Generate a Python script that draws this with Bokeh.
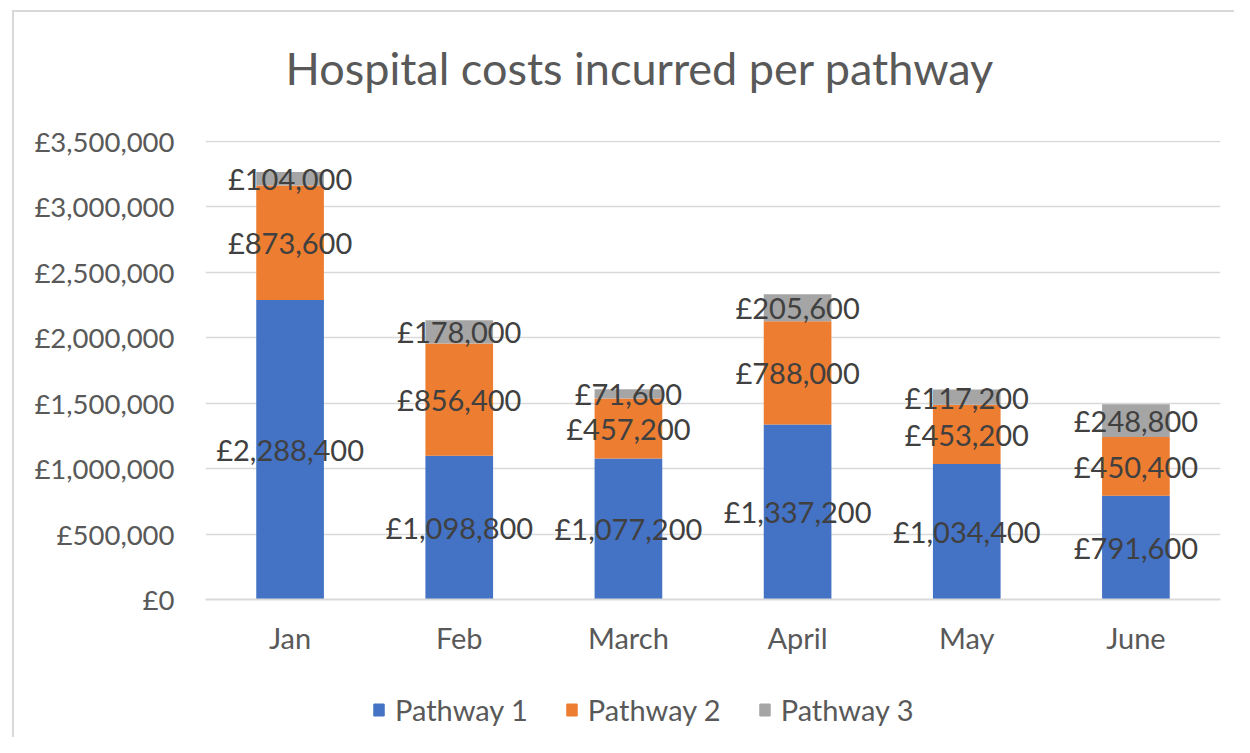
from bokeh.plotting import figure
from bokeh.layouts import column
from bokeh.models import (FactorRange, FixedTicker, Legend, LegendItem, ColumnDataSource, Label)
from bokeh.core.properties import value
from bokeh.embed import file_html
from bokeh.resources import INLINE

categories = ["Jan", "Feb", "March", "April", "May", "June"]
pathway1 = [2288400, 1098800, 1077200, 1337200, 1034400, 791600]
pathway2 = [873600, 856400, 457200, 788000, 453200, 450400]
pathway3 = [104000, 178000, 71600, 205600, 117200, 248800]
series_names = ["Pathway 1", "Pathway 2", "Pathway 3"]
series_colors = ["#4472C4", "#ED7D31", "#A5A5A5"]
y_ticks = [0, 500000, 1000000, 1500000, 2000000, 2500000, 3000000, 3500000]
y_tick_labels = ["£0", "£500,000", "£1,000,000", "£1,500,000", "£2,000,000",
                 "£2,500,000", "£3,000,000", "£3,500,000"]
title_text = "Hospital costs incurred per pathway"

FONT = "Lato"

# ---- title strip ----
tf = figure(width=1220, height=100, output_backend="svg", toolbar_location=None,
            x_axis_type=None, y_axis_type=None, x_range=(0, 1), y_range=(0, 1),
            min_border=0, background_fill_color="white", border_fill_color="white")
tf.outline_line_color = None
tf.grid.visible = False
tf.add_layout(Label(x=80, y=45, x_units="screen", y_units="screen", text=title_text,
                    text_align="left", text_baseline="alphabetic", text_font=FONT,
                    text_font_size="45px", text_color="#595959"))

# ---- main chart ----
p = figure(x_range=FactorRange(*categories, range_padding=0), y_range=(0, 3506000),
           width=1220, height=548, output_backend="svg", toolbar_location=None,
           min_border_left=191, min_border_right=14, min_border_top=28,
           min_border_bottom=61, background_fill_color="white",
           border_fill_color="white")
p.outline_line_color = None

series = [pathway1, pathway2, pathway3]
src = ColumnDataSource(dict(cat=categories, p1=pathway1, p2=pathway2, p3=pathway3))
stack = p.vbar_stack(["p1", "p2", "p3"], x="cat", width=0.4, color=series_colors,
                     line_color=None, source=src)

# data labels at segment centres
for k, vals in enumerate(series):
    centers, texts = [], []
    for i, v in enumerate(vals):
        base = sum(series[j][i] for j in range(k))
        centers.append(base + v / 2)
        texts.append("£{:,}".format(v))
    p.text(x=categories, y=centers, text=texts, text_align="center",
           text_baseline="middle", text_font=value(FONT), text_font_size="29px",
           text_color="#404040")

# axes
p.yaxis.ticker = FixedTicker(ticks=y_ticks)
p.yaxis.major_label_overrides = {t: l for t, l in zip(y_ticks, y_tick_labels)}
p.yaxis.axis_line_color = None
p.yaxis.major_tick_line_color = None
p.yaxis.minor_tick_line_color = None
p.yaxis.major_label_standoff = 25
p.yaxis.major_label_text_font = FONT
p.yaxis.major_label_text_font_size = "27.5px"
p.yaxis.major_label_text_color = "#595959"

p.xaxis.axis_line_color = "#d9d9d9"
p.xaxis.axis_line_width = 2
p.xaxis.major_tick_line_color = None
p.xaxis.minor_tick_line_color = None
p.xaxis.major_label_standoff = 14
p.xaxis.major_label_text_font = FONT
p.xaxis.major_label_text_font_size = "29px"
p.xaxis.major_label_text_color = "#595959"

p.xgrid.grid_line_color = None
p.ygrid.grid_line_color = "#d9d9d9"
p.ygrid.grid_line_width = 1.5

# ---- legend strip ----
lg = figure(width=1220, height=77, output_backend="svg", toolbar_location=None,
            x_axis_type=None, y_axis_type=None, x_range=(0, 1), y_range=(0, 1),
            min_border=0, background_fill_color="white", border_fill_color="white")
lg.outline_line_color = None
lg.grid.visible = False
dummies = [lg.vbar(x=[0.5], top=[0], bottom=[0], width=0, color=c) for c in series_colors]
legend = Legend(items=[LegendItem(label=n, renderers=[r]) for n, r in zip(series_names, dummies)],
                orientation="horizontal", location=(167, 10), margin=0,
                glyph_width=13, glyph_height=15, label_standoff=10, spacing=37,
                label_text_font=FONT, label_text_font_size="29px",
                label_text_color="#595959", border_line_color=None,
                background_fill_alpha=0, padding=5)
lg.add_layout(legend, "center")

layout = column(tf, p, lg, spacing=0,
                styles={"margin-left": "12px", "margin-top": "10px",
                        "border-top": "2px solid #d9d9d9",
                        "border-left": "2px solid #d9d9d9"})
open("out.html", "w").write(file_html(layout, INLINE))
